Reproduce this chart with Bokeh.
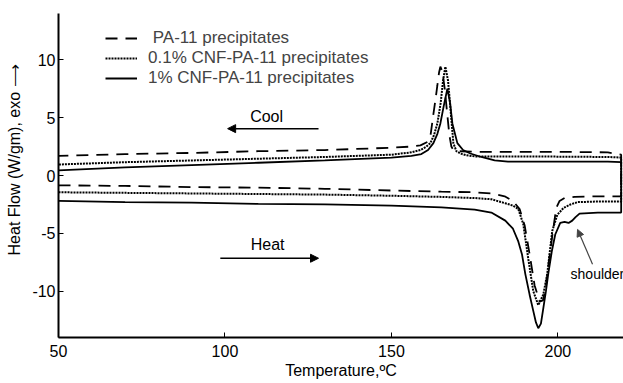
from bokeh.plotting import figure
from bokeh.models import Range1d, Legend, LegendItem, Arrow, NormalHead, Label, PrintfTickFormatter
from bokeh.embed import file_html
from bokeh.resources import INLINE

# ---------------- data ----------------
series_names = ["\u00a0PA-11 precipitates", "0.1% CNF-PA-11 precipitates", "1% CNF-PA-11 precipitates"]

# heating scans (lower traces), temperature in degC, heat flow W/g
pa11_heat_T = [50, 70, 90, 110, 130, 150, 165, 175, 180, 184, 186.5, 188.5, 190, 191.5, 193, 194.5,
               195.5, 196.3, 197.4, 198.5, 199.5, 200.5, 202, 205, 212, 219]
pa11_heat_v = [-0.85, -0.9, -1.0, -1.05, -1.15, -1.3, -1.4, -1.45, -1.55, -1.8, -2.2, -2.9, -4.3, -6.8, -9.5, -10.9,
               -10.8, -9.8, -7.2, -4.8, -2.8, -2.2, -1.95, -1.85, -1.8, -1.8]

cnf01_heat_T = [50, 70, 90, 110, 130, 150, 165, 175, 180, 184.2, 186.5, 188.1, 189.6, 191.1, 192.6, 194.1,
                195.6, 196.8, 197.6, 198.3, 199.8, 201.7, 203.8, 206, 212, 219]
cnf01_heat_v = [-1.45, -1.5, -1.55, -1.6, -1.65, -1.75, -1.85, -1.95, -2.05, -2.4, -2.6, -2.9, -4.2, -7.2, -10.0, -11.2,
                -10.3, -8.5, -6.5, -4.8, -3.4, -2.8, -2.5, -2.3, -2.25, -2.25]

cnf1_heat_T = [50, 70, 90, 110, 130, 150, 165, 175, 180, 184.2, 186.5, 188.1, 189.2, 190.2, 191.5, 192.6, 193.4, 194.1,
               194.9, 195.6, 196.4, 197.1, 198.2, 199.2, 200.7, 202, 203.2, 204.3, 205.3, 206.5, 212, 219]
cnf1_heat_v = [-2.2, -2.3, -2.35, -2.45, -2.5, -2.6, -2.75, -2.95, -3.2, -3.9, -4.6, -5.7, -6.8, -8.5, -10.3, -11.7, -12.7, -13.2,
               -12.8, -11.5, -10.0, -8.5, -6.5, -5.1, -4.1, -4.0, -4.1, -3.9, -3.6, -3.3, -3.2, -3.2]

# cooling scans (upper traces)
pa11_cool_T = [50, 70, 90, 110, 130, 150, 156, 158.7, 160.8, 161.8, 162.6, 163.2, 163.8, 164.3, 164.7, 165.3,
               166, 166.8, 167.4, 168, 168.6, 170, 175, 200, 215, 219]
pa11_cool_v = [1.7, 1.85, 1.95, 2.1, 2.2, 2.4, 2.5, 2.6, 2.9, 3.6, 5.3, 6.5, 7.8, 8.9, 9.4, 9.0,
               7.5, 5.2, 3.5, 2.5, 2.2, 2.1, 2.05, 2.05, 2.0, 1.8]

cnf01_cool_T = [50, 70, 90, 110, 130, 150, 156, 158.7, 160.5, 161.7, 162.8, 163.8, 164.8, 165.5, 166.2, 167,
                167.7, 168.6, 169.5, 170.7, 172.5, 175, 190, 215, 219]
cnf01_cool_v = [0.95, 1.15, 1.3, 1.45, 1.6, 1.8, 2.0, 2.2, 2.5, 2.8, 3.5, 4.5, 6.3, 8.2, 9.4, 8.2,
                5.9, 2.8, 2.1, 1.9, 1.75, 1.65, 1.65, 1.6, 1.55]

cnf1_cool_T = [50, 70, 90, 110, 130, 150, 156, 159, 161, 162.6, 163.8, 164.7, 165.7, 166.8, 167.6, 168.3,
               169.8, 171.5, 173.7, 177, 181, 185, 200, 215, 219]
cnf1_cool_v = [0.45, 0.7, 0.9, 1.1, 1.3, 1.55, 1.7, 1.85, 2.2, 2.8, 3.6, 4.5, 6.0, 7.5, 6.3, 4.5,
               2.8, 2.2, 1.9, 1.6, 1.3, 1.2, 1.2, 1.2, 1.15]

x_ticks = [50, 100, 150, 200]
y_ticks = [-10, -5, 0, 5, 10]
x_title = "Temperature,\u00baC"
y_title = "Heat Flow (W/gm), exo \u27f6"

FONT = "Liberation Sans"

p = figure(width=623, height=383, x_range=Range1d(50, 219.7), y_range=Range1d(-14, 14),
           output_backend="svg", toolbar_location=None,
           min_border_left=58, min_border_right=0, min_border_top=13, min_border_bottom=46)
p.outline_line_color = None
p.xgrid.visible = False
p.ygrid.visible = False
p.background_fill_color = "white"
p.border_fill_color = "white"

def loop(hT, hv, cT, cv):
    # heating 50 -> 219, then cooling back 219 -> 50
    return list(hT) + list(reversed(cT)), list(hv) + list(reversed(cv))

x0, y0 = loop(pa11_heat_T, pa11_heat_v, pa11_cool_T, pa11_cool_v)
x1, y1 = loop(cnf01_heat_T, cnf01_heat_v, cnf01_cool_T, cnf01_cool_v)
x2, y2 = loop(cnf1_heat_T, cnf1_heat_v, cnf1_cool_T, cnf1_cool_v)

r0 = p.line(x0, y0, line_color="black", line_width=1.8, line_dash="12 8")
r1 = p.line(x1, y1, line_color="black", line_width=2, line_dash="2 1")
r2 = p.line(x2, y2, line_color="black", line_width=1.8)

legend = Legend(items=[LegendItem(label=series_names[0], renderers=[r0]),
                       LegendItem(label=series_names[1], renderers=[r1]),
                       LegendItem(label=series_names[2], renderers=[r2])],
                location=(47, 249), label_text_font=FONT, label_text_font_size="17px",
                glyph_width=32, glyph_height=20, label_height=20, spacing=0, padding=0, margin=0,
                label_standoff=11, border_line_color=None, background_fill_alpha=0)
p.add_layout(legend)

for ax in (p.xaxis[0], p.yaxis[0]):
    ax.axis_line_width = 2
    ax.axis_line_color = "black"
    ax.major_tick_in = 5
    ax.major_tick_out = 0
    ax.minor_tick_line_color = None
    ax.major_tick_line_color = "black"
    ax.major_label_text_font = FONT
    ax.major_label_text_font_size = "16px"
    ax.major_label_text_color = "black"
    ax.axis_label_text_font = FONT
    ax.axis_label_text_font_size = "16px"
    ax.axis_label_text_font_style = "normal"
    ax.axis_label_text_color = "black"

p.xaxis.ticker = x_ticks
p.yaxis.ticker = y_ticks
p.yaxis.formatter = PrintfTickFormatter(format="%d")
p.xaxis.axis_label = x_title
# leading non-breaking spaces shift the visible title upward, as in the reference
p.yaxis.axis_label = "\u00a0" * 7 + y_title
p.xaxis.major_label_standoff = 7
p.xaxis.axis_label_standoff = 2
p.yaxis.major_label_standoff = 3
p.yaxis.axis_label_standoff = 6

# annotations
p.add_layout(Label(x=112.5, y=5.1, text="Cool", text_align="center", text_baseline="middle",
                   text_font=FONT, text_font_size="16px", text_color="black"))
p.add_layout(Arrow(end=NormalHead(size=8, fill_color="black", line_color="black"),
                   x_start=128.1, y_start=4.05, x_end=100.8, y_end=4.05, line_width=1.5))
p.add_layout(Label(x=112.8, y=-5.95, text="Heat", text_align="center", text_baseline="middle",
                   text_font=FONT, text_font_size="16px", text_color="black"))
p.add_layout(Arrow(end=NormalHead(size=8, fill_color="black", line_color="black"),
                   x_start=98.6, y_start=-7.15, x_end=128.1, y_end=-7.15, line_width=1.5))
p.add_layout(Label(x=203.8, y=-8.5, text="shoulder", text_align="left", text_baseline="middle",
                   text_font=FONT, text_font_size="14px", text_color="black"))
p.add_layout(Arrow(end=NormalHead(size=7, fill_color="#444444", line_color="#444444"),
                   x_start=210.4, y_start=-7.67, x_end=205.9, y_end=-4.66, line_width=1.2,
                   line_color="#444444"))

open("out.html", "w").write(file_html(p, INLINE))
